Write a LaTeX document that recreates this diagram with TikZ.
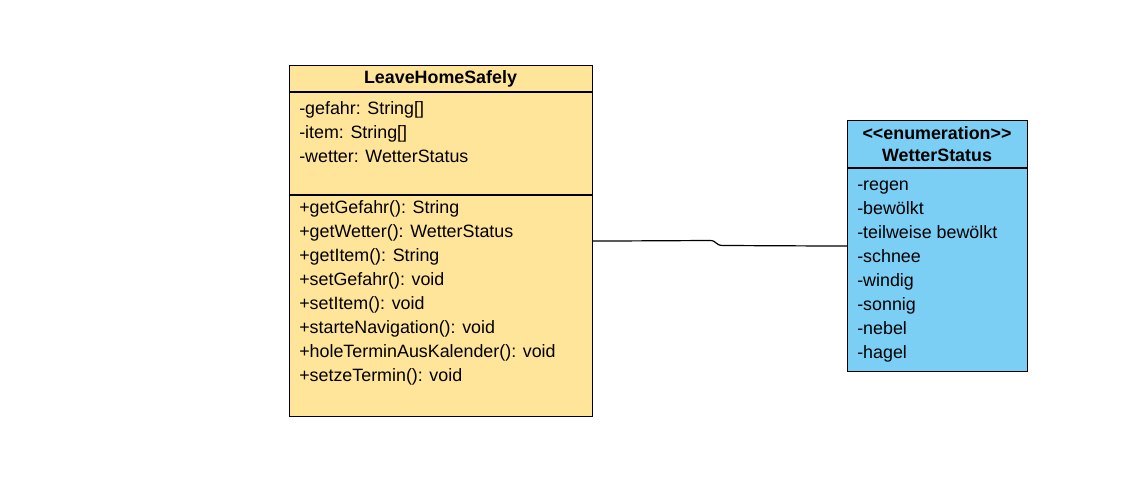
\documentclass[tikz,border=0pt]{standalone}
\usepackage{fontspec}
\setmainfont{Liberation Sans}
\usepackage{tikz}

\begin{document}
\begin{tikzpicture}[x=0.75pt,y=-0.75pt,
    cls_box/.style={draw,line width=0.9pt,inner sep=0,anchor=north west},
    member/.style={anchor=west,inner sep=0,text height=9.5pt,text depth=2.5pt,font=\fontsize{13.4}{15}\selectfont},
    title/.style={inner sep=0,font=\fontsize{13.4}{16.5}\selectfont\bfseries,align=center}]
\definecolor{clsyellow}{HTML}{FFE599}
\definecolor{enumblue}{HTML}{7BCFF5}
\useasboundingbox (0,0) rectangle (1146,477);
    % class LeaveHomeSafely
    \node[cls_box, fill=clsyellow, minimum width=303*0.75pt, minimum height=351*0.75pt] (lhs) at (289,65) {};
    \draw[line width=0.9pt] (289,92) -- (592,92);
    \draw[line width=0.9pt] (289,195) -- (592,195);
    \node[title] (lhsname) at (440.5,79) {LeaveHomeSafely};
    \foreach \txt [count=\i from 0] in {-gefahr: String[],-item: String[],-wetter: WetterStatus}
        \node[member] (att\i) at (299,110+24*\i) {\txt};
    \foreach \txt [count=\i from 0] in {+getGefahr(): String,+getWetter(): WetterStatus,+getItem(): String,+setGefahr(): void,+setItem(): void,+starteNavigation(): void,+holeTerminAusKalender(): void,+setzeTermin(): void}
        \node[member] (op\i) at (299,209+24*\i) {\txt};

    % enumeration WetterStatus
    \node[cls_box, fill=enumblue, minimum width=180*0.75pt, minimum height=251*0.75pt] (ws) at (847,120) {};
    \draw[line width=0.9pt] (847,168) -- (1027,168);
    \node[title] (wsname) at (937,144) {<{}<enumeration>{}>\\WetterStatus};
    \foreach \txt [count=\i from 0] in {-regen,-bewölkt,-teilweise bewölkt,-schnee,-windig,-sonnig,-nebel,-hagel}
        \node[member] (lit\i) at (857,186+24*\i) {\txt};

    \draw[line width=0.9pt] (lhs.east) -- (710,240.5) .. controls (717,240.5) and (715,245.5) .. (723,245.5) -- (ws.west);

\end{tikzpicture}
\end{document}
